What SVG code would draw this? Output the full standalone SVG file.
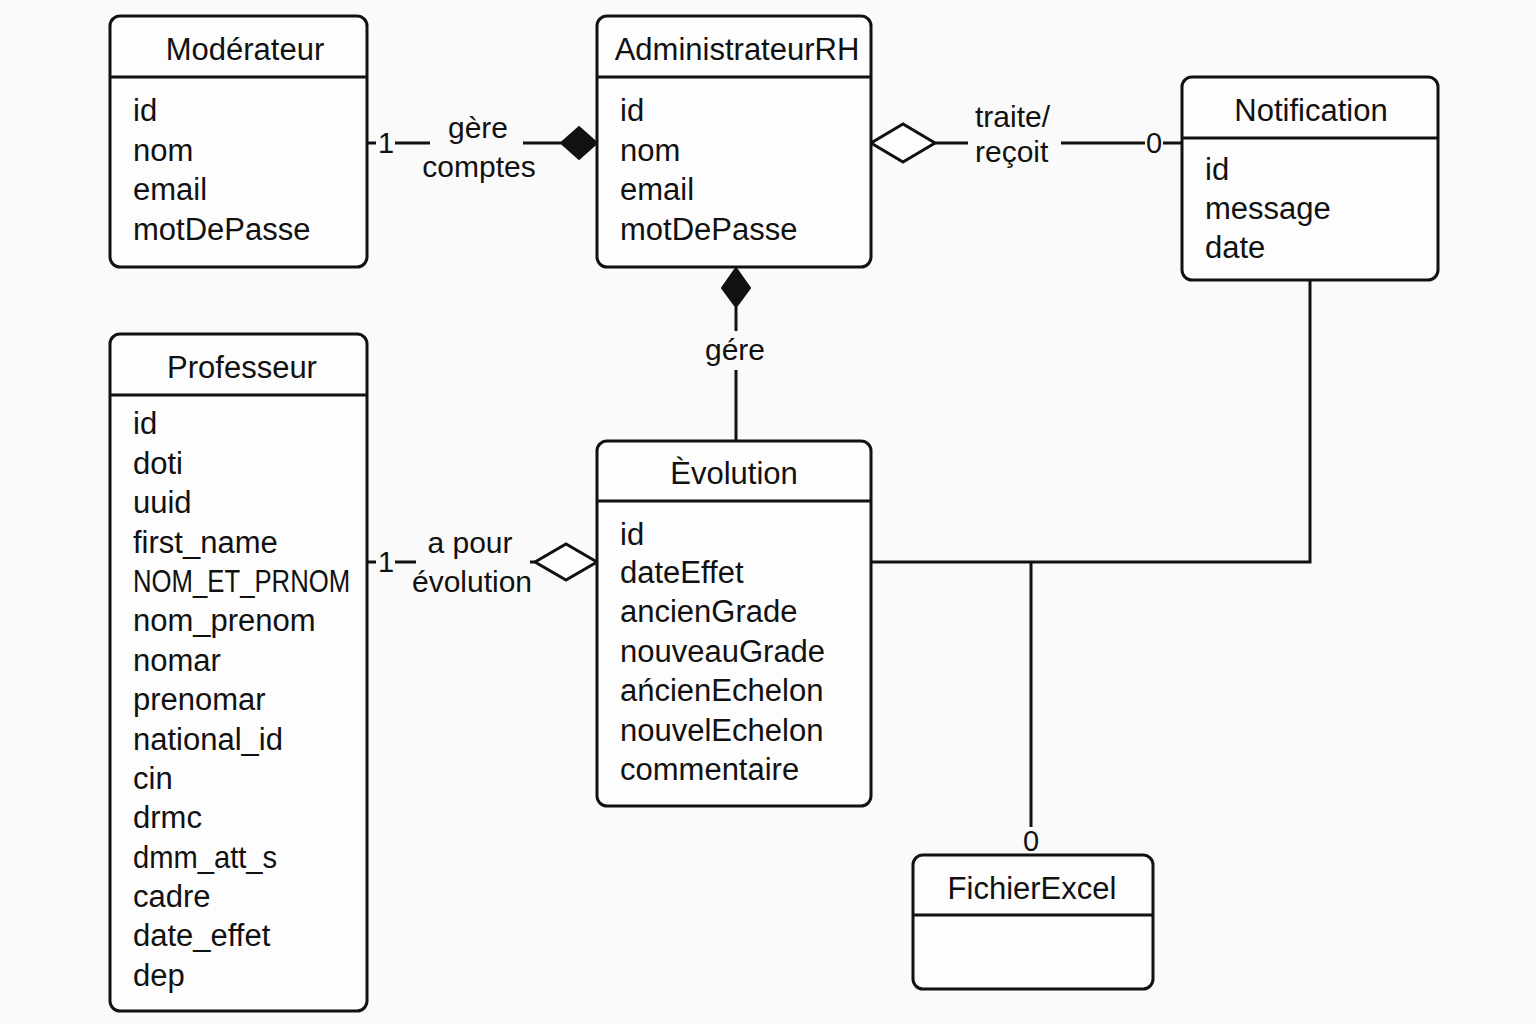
<svg xmlns="http://www.w3.org/2000/svg" width="1536" height="1024" viewBox="0 0 1536 1024">
<defs>
<style>
.box{fill:#fdfdfd;stroke:#111;stroke-width:3}
.sep{stroke:#111;stroke-width:3}
.ln{stroke:#111;stroke-width:3;fill:none}
.t{font-family:"Liberation Sans",Arial,sans-serif;font-size:31px;fill:#111}
.title{text-anchor:middle}
.lbl{font-family:"Liberation Sans",Arial,sans-serif;font-size:30px;fill:#111}
.mid{text-anchor:middle}
.mult{font-size:29px}
.fd{fill:#111;stroke:#111;stroke-width:2}
.hd{fill:#fdfdfd;stroke:#111;stroke-width:3}
</style>
</defs>
<rect width="1536" height="1024" fill="#fafafa"/>

<g id="connectors">
  <!-- Moderateur - AdministrateurRH -->
  <line class="ln" x1="367" y1="143" x2="376" y2="143"/>
  <text class="lbl mid mult" x="386" y="153">1</text>
  <line class="ln" x1="395" y1="143" x2="430" y2="143"/>
  <text class="lbl mid" x="478" y="138">gère</text>
  <text class="lbl mid" x="479" y="177">comptes</text>
  <line class="ln" x1="523" y1="143" x2="561" y2="143"/>
  <polygon class="fd" points="561,143 579,127 597,143 579,159"/>

  <!-- AdministrateurRH - Notification -->
  <polygon class="hd" points="871,143 903,124 935,143 903,162"/>
  <line class="ln" x1="935" y1="143" x2="968" y2="143"/>
  <text class="lbl" x="975" y="127">traite/</text>
  <text class="lbl" x="975" y="162">reçoit</text>
  <line class="ln" x1="1061" y1="143" x2="1145" y2="143"/>
  <text class="lbl mid mult" x="1154" y="153">0</text>
  <line class="ln" x1="1163" y1="143" x2="1182" y2="143"/>

  <!-- AdministrateurRH - Evolution -->
  <polygon class="fd" points="736,268 750,288 736,307 722,288"/>
  <line class="ln" x1="736" y1="307" x2="736" y2="331"/>
  <text class="lbl mid" x="735" y="360">gére</text>
  <line class="ln" x1="736" y1="370" x2="736" y2="441"/>

  <!-- Professeur - Evolution -->
  <line class="ln" x1="367" y1="562" x2="376" y2="562"/>
  <text class="lbl mid mult" x="386" y="572">1</text>
  <line class="ln" x1="395" y1="562" x2="416" y2="562"/>
  <text class="lbl mid" x="470" y="553">a pour</text>
  <text class="lbl mid" x="472" y="592">évolution</text>
  <line class="ln" x1="530" y1="562" x2="535" y2="562"/>
  <polygon class="hd" points="535,562 566,544 597,562 566,580"/>

  <!-- Evolution - Notification / FichierExcel -->
  <polyline class="ln" points="871,562 1310,562 1310,280"/>
  <line class="ln" x1="1031" y1="562" x2="1031" y2="827"/>
  <text class="lbl mid mult" x="1031" y="851">0</text>
</g>

<g id="moderateur">
  <rect class="box" x="110" y="16" width="257" height="251" rx="10"/>
  <line class="sep" x1="110" y1="77" x2="367" y2="77"/>
  <text class="t title" x="245" y="60">Modérateur</text>
  <text class="t" x="133" y="121">id</text>
  <text class="t" x="133" y="161">nom</text>
  <text class="t" x="133" y="200">email</text>
  <text class="t" x="133" y="240">motDePasse</text>
</g>

<g id="administrateurRH">
  <rect class="box" x="597" y="16" width="274" height="251" rx="10"/>
  <line class="sep" x1="597" y1="77" x2="871" y2="77"/>
  <text class="t title" x="737" y="60">AdministrateurRH</text>
  <text class="t" x="620" y="121">id</text>
  <text class="t" x="620" y="161">nom</text>
  <text class="t" x="620" y="200">email</text>
  <text class="t" x="620" y="240">motDePasse</text>
</g>

<g id="notification">
  <rect class="box" x="1182" y="77" width="256" height="203" rx="10"/>
  <line class="sep" x1="1182" y1="138" x2="1438" y2="138"/>
  <text class="t title" x="1311" y="121">Notification</text>
  <text class="t" x="1205" y="180">id</text>
  <text class="t" x="1205" y="219">message</text>
  <text class="t" x="1205" y="258">date</text>
</g>

<g id="professeur">
  <rect class="box" x="110" y="334" width="257" height="677" rx="10"/>
  <line class="sep" x1="110" y1="395" x2="367" y2="395"/>
  <text class="t title" x="242" y="378">Professeur</text>
  <text class="t" x="133" y="434">id</text>
  <text class="t" x="133" y="474">doti</text>
  <text class="t" x="133" y="513">uuid</text>
  <text class="t" x="133" y="553">first_name</text>
  <text class="t" transform="translate(133,592) scale(0.83,1)" x="0" y="0">NOM_ET_PRNOM</text>
  <text class="t" x="133" y="631">nom_prenom</text>
  <text class="t" x="133" y="671">nomar</text>
  <text class="t" x="133" y="710">prenomar</text>
  <text class="t" x="133" y="750">national_id</text>
  <text class="t" x="133" y="789">cin</text>
  <text class="t" x="133" y="828">drmc</text>
  <text class="t" transform="translate(133,868) scale(0.94,1)" x="0" y="0">dmm_att_s</text>
  <text class="t" x="133" y="907">cadre</text>
  <text class="t" x="133" y="946">date_effet</text>
  <text class="t" x="133" y="986">dep</text>
</g>

<g id="evolution">
  <rect class="box" x="597" y="441" width="274" height="365" rx="10"/>
  <line class="sep" x1="597" y1="501" x2="871" y2="501"/>
  <text class="t title" x="734" y="484">Èvolution</text>
  <text class="t" x="620" y="545">id</text>
  <text class="t" x="620" y="583">dateEffet</text>
  <text class="t" x="620" y="622">ancienGrade</text>
  <text class="t" x="620" y="662">nouveauGrade</text>
  <text class="t" x="620" y="701">ańcienEchelon</text>
  <text class="t" x="620" y="741">nouvelEchelon</text>
  <text class="t" x="620" y="780">commentaire</text>
</g>

<g id="fichierExcel">
  <rect class="box" x="913" y="855" width="240" height="134" rx="10"/>
  <line class="sep" x1="913" y1="915" x2="1153" y2="915"/>
  <text class="t title" x="1032" y="899">FichierExcel</text>
</g>
</svg>
